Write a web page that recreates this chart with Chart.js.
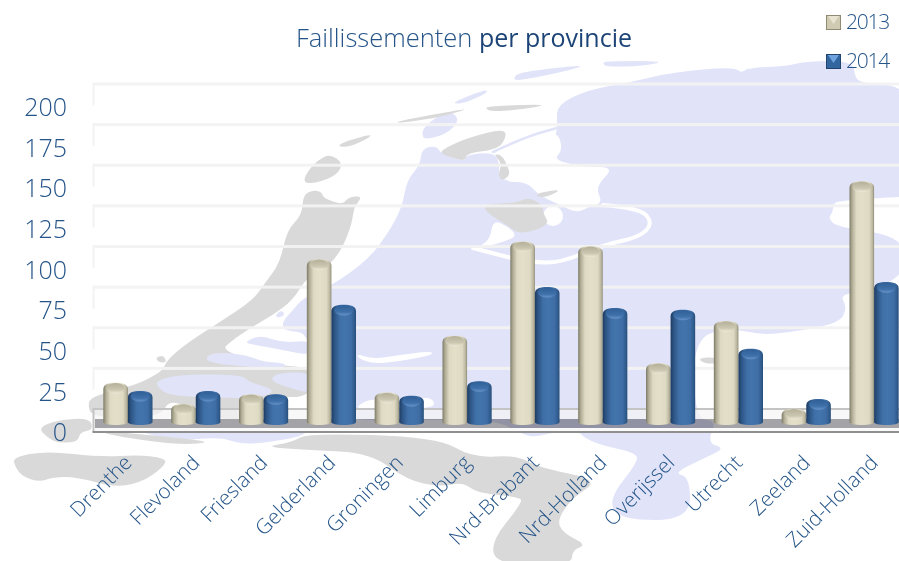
<!DOCTYPE html>
<html><head><meta charset="utf-8">
<style>html,body{margin:0;padding:0;background:#fff;overflow:hidden;width:899px;height:561px}canvas{display:block}</style>
<script src="https://cdn.jsdelivr.net/npm/chart.js@4/dist/chart.umd.min.js"></script>
</head><body><canvas id="c" width="908" height="561"></canvas>
<script>
const categories=["Drenthe","Flevoland","Friesland","Gelderland","Groningen","Limburg","Nrd-Brabant","Nrd-Holland","Overijssel","Utrecht","Zeeland","Zuid-Holland"];
const values2013=[26,13,19,102,20,55,113,110,38,64,10,150];
const values2014=[21,21,19,74,18,27,85,72,71,47,16,88];
const seriesNames=["2013","2014"];
const tickStep=25, axisMax=200;
const titleLight="Faillissementen", titleBold="per provincie";

const FONT='"Open Sans"';
const TXT='#245488', TXT2='#1c4477';
const BLUE='#e1e4f9', GREY='#d9d9d9';
const DEPTH=23, BAR_SHIFT=7, WALL_X=93;

function poly(ctx,pts,fill){ctx.beginPath();smooth(ctx,pts,true);ctx.fillStyle=fill;ctx.fill();}
function smooth(ctx,p,closed){
  const n=p.length;
  if(closed){
    let a=[(p[n-1][0]+p[0][0])/2,(p[n-1][1]+p[0][1])/2];ctx.moveTo(a[0],a[1]);
    for(let i=0;i<n;i++){const q=p[(i+1)%n];ctx.quadraticCurveTo(p[i][0],p[i][1],(p[i][0]+q[0])/2,(p[i][1]+q[1])/2);}
    ctx.closePath();
  }else{
    ctx.moveTo(p[0][0],p[0][1]);
    for(let i=1;i<n-1;i++)ctx.quadraticCurveTo(p[i][0],p[i][1],(p[i][0]+p[i+1][0])/2,(p[i][1]+p[i+1][1])/2);
    ctx.lineTo(p[n-1][0],p[n-1][1]);
  }
}
function line(ctx,pts,col,w){ctx.beginPath();smooth(ctx,pts,false);ctx.strokeStyle=col;ctx.lineWidth=w;ctx.lineCap='round';ctx.stroke();}

function drawMap(ctx){
  poly(ctx,[[303,195],[313,190],[322,192],[323,198],[343,205],[348,197],[363,196],[354,207],[352,223],[343,247],[330,265],[307,277],[293,300],[273,315],[250,328],[230,342],[222,350],[262,365],[300,366],[312,372],[310,398],[270,396],[252,414],[240,420],[205,417],[170,398],[160,418],[92,418],[87,402],[97,395],[135,385],[150,378],[163,370],[167,360],[187,343],[223,320],[253,300],[265,283],[280,263],[287,230],[302,215]],GREY);
  poly(ctx,[[422,148],[437,146],[440,153],[465,162],[465,155],[493,152],[500,163],[498,180],[527,182],[537,193],[557,133],[557,122],[557,105],[587,90],[632,82],[673,72],[733,67],[742,73],[747,68],[787,66],[807,61],[853,61],[855,78],[863,83],[893,85],[905,93],[905,197],[893,197],[837,201],[833,205],[833,212],[828,218],[837,227],[905,237],[905,277],[860,292],[840,295],[847,307],[840,323],[793,332],[760,335],[733,328],[693,337],[695,420],[717,420],[707,443],[725,448],[707,457],[673,473],[690,477],[690,520],[620,520],[608,500],[637,463],[637,453],[600,445],[583,437],[580,432],[553,432],[537,437],[523,435],[497,420],[432,420],[312,420],[312,333],[284,331],[282,322],[293,310],[303,298],[333,285],[370,258],[390,230],[402,207],[407,180],[420,165]],BLUE);
  poly(ctx,[[502,155],[530,142],[557,130],[563,150],[553,160],[585,167],[615,167],[595,187],[603,203],[588,207],[577,213],[560,205],[543,197],[537,193],[527,182],[505,182],[510,175],[508,167]],'#fff');
  line(ctx,[[603,205],[640,208],[653,223],[640,237],[603,245],[560,263],[530,262],[507,257],[473,248]],'#fff',4);
  poly(ctx,[[493,220],[507,226],[518,236],[500,243],[475,249],[490,240]],'#fff');
  ctx.beginPath();ctx.ellipse(553,216,10,10,0,0,7);ctx.fillStyle='#fff';ctx.fill();
  line(ctx,[[493,152],[525,137],[557,128]],BLUE,2.5);
  poly(ctx,[[357,354],[373,359],[400,355],[431,351],[433,355],[400,361],[373,364],[358,358]],'#fff');
  poly(ctx,[[358,405],[373,398],[400,403],[420,397],[434,399],[434,409],[358,409]],'#fff');
  poly(ctx,[[205,357],[217,352],[247,355],[263,362],[287,363],[283,369],[250,367],[210,363]],BLUE);
  poly(ctx,[[245,342],[260,335],[283,343],[312,340],[312,356],[283,350],[250,344]],BLUE);
  poly(ctx,[[157,380],[183,374],[243,375],[248,382],[277,390],[260,398],[233,398],[170,396],[157,387]],BLUE);
  poly(ctx,[[272,377],[280,373],[312,372],[312,394],[290,388],[273,382]],BLUE);
  poly(ctx,[[275,315],[282,310],[285,315],[278,318]],BLUE);
  poly(ctx,[[422,138],[423,127],[447,110],[460,118],[450,132],[430,139]],BLUE);
  poly(ctx,[[453,102],[487,89],[487,93],[467,102],[457,104]],BLUE);
  poly(ctx,[[513,78],[520,72],[590,64],[563,72],[517,81]],BLUE);
  poly(ctx,[[602,63],[608,61],[667,61],[643,66],[607,67]],BLUE);
  poly(ctx,[[143,433],[175,441],[220,437],[240,444],[265,443],[303,436],[307,430],[143,428]],BLUE);
  poly(ctx,[[330,154],[343,163],[337,175],[317,183],[303,183],[307,172],[318,160]],GREY);
  poly(ctx,[[335,145],[370,134],[371,137],[347,148]],GREY);
  poly(ctx,[[395,122],[430,115],[472,108],[450,114],[435,118],[400,123]],GREY);
  poly(ctx,[[484,108],[493,106],[547,104],[533,108],[493,112]],GREY);
  poly(ctx,[[439,153],[447,147],[470,137],[507,128],[504,143],[493,150],[467,153],[465,161],[453,158]],GREY);
  poly(ctx,[[493,154],[502,155],[508,167],[510,175],[502,181],[498,175],[502,163]],GREY);
  poly(ctx,[[537,193],[563,189],[547,197],[537,197]],GREY);
  poly(ctx,[[483,204],[517,203],[528,197],[543,205],[543,213],[550,225],[520,235],[507,225],[487,213]],GREY);
  poly(ctx,[[155,358],[163,355],[167,362],[160,363]],GREY);
  poly(ctx,[[38,428],[57,420],[90,418],[93,430],[80,432],[78,442],[57,443],[47,437]],GREY);
  poly(ctx,[[13,457],[47,451],[100,457],[140,455],[163,458],[167,463],[147,480],[117,488],[77,477],[53,477],[40,482],[23,477],[15,467]],GREY);
  poly(ctx,[[93,430],[160,436],[215,442],[180,445],[120,437]],GREY);
  poly(ctx,[[263,447],[293,442],[307,433],[437,437],[473,458],[517,455],[537,467],[600,480],[573,497],[557,520],[563,533],[587,545],[572,550],[572,565],[498,565],[490,543],[522,503],[520,497],[477,493],[463,482],[440,487],[407,480],[370,453],[310,450]],GREY);
  poly(ctx,[[697,358],[717,357],[722,363],[705,364]],GREY);
}

function cylinder(ctx,x,top,base,w,stops,capTop,capMid,rim){
  const l=x-w/2,r=x+w/2,h=base-top,ry=Math.min(6.5,h/2.4),rb=3;
  const g=ctx.createLinearGradient(l,0,r,0);stops.forEach(s=>g.addColorStop(s[0],s[1]));
  ctx.beginPath();
  ctx.moveTo(l,top+ry);
  ctx.bezierCurveTo(l,top+ry*.2,l+w*.22,top,x,top);
  ctx.bezierCurveTo(r-w*.22,top,r,top+ry*.2,r,top+ry);
  ctx.lineTo(r,base-rb);
  ctx.bezierCurveTo(r,base-rb*.3,r-w*.2,base,x,base);
  ctx.bezierCurveTo(l+w*.2,base,l,base-rb*.3,l,base-rb);
  ctx.closePath();ctx.fillStyle=g;ctx.fill();
  const cg=ctx.createLinearGradient(0,top,0,top+ry*1.7);
  cg.addColorStop(0,capTop);cg.addColorStop(.65,capMid);cg.addColorStop(1,rim);
  ctx.beginPath();ctx.ellipse(x,top+ry*.85,w*.38,ry*.8,0,0,7);ctx.fillStyle=cg;ctx.fill();
}

const mapPlugin={id:'mapBackdrop',beforeDraw(chart){
  const ctx=chart.ctx,y=chart.scales.y,W=chart.width,L=WALL_X;
  ctx.save();ctx.fillStyle='#fff';ctx.fillRect(0,0,W,561);
  drawMap(ctx);
  y.ticks.forEach(t=>{
    const py=y.getPixelForValue(t.value)-DEPTH;
    if(t.value===0)return;
    ctx.fillStyle='rgba(242,242,242,.95)';
    ctx.fillRect(L,py-1.5,W-L,3);
    ctx.fillRect(L-.5,py-1.5,2,DEPTH);
  });
  const f=y.getPixelForValue(0);
  ctx.fillStyle='rgba(245,245,245,.7)';ctx.fillRect(L,f-DEPTH,W-L,10);
  ctx.globalCompositeOperation='multiply';
  ctx.fillStyle='#a4a4a8';ctx.fillRect(L+2,f-13,W-L,9);
  ctx.globalCompositeOperation='source-over';
  ctx.fillStyle='#fafafa';ctx.fillRect(L+2,f-4,W-L,3);
  ctx.fillStyle='#c4c4c4';
  ctx.fillRect(L,f-DEPTH-1,W-L,2);
  ctx.fillRect(L-.5,f-DEPTH-1,2,DEPTH+1);
  ctx.fillStyle='#8f8f8f';ctx.fillRect(L-.5,f-1,W-L,2);
  ctx.restore();
},
beforeDatasetsDraw(chart){
  const ctx=chart.ctx;ctx.save();
  const styles=[
    {stops:[[0,'#7c7a66'],[.1,'#aeaa94'],[.28,'#dfdac3'],[.5,'#e4dfc9'],[.8,'#dfdac3'],[.94,'#b8b49e'],[1,'#8e8b76']],cap:['#b2ae97','#cbc7b0','#f0ecdb']},
    {stops:[[0,'#1e3b60'],[.12,'#2c5484'],[.35,'#4070a8'],[.55,'#4474ac'],[.8,'#3f6ea6'],[.95,'#2e598a'],[1,'#264c76']],cap:['#2f5e95','#3f70a9','#6a97cc']}
  ];
  chart.data.datasets.forEach((d,i)=>{
    const s=styles[i];
    chart.getDatasetMeta(i).data.forEach(el=>{
      cylinder(ctx,el.x,el.y-BAR_SHIFT,el.base-BAR_SHIFT,el.width,s.stops,s.cap[0],s.cap[1],s.cap[2]);
    });
  });
  ctx.restore();
  return false;
},
afterDraw(chart){
  const ctx=chart.ctx;ctx.save();
  ctx.textBaseline='alphabetic';ctx.textAlign='left';
  ctx.font='300 25.5px '+FONT;ctx.fillStyle=TXT;
  ctx.fillText(titleLight,296,47);
  const w=ctx.measureText(titleLight+' ').width;
  ctx.font='500 25px '+FONT;ctx.fillStyle=TXT2;
  ctx.fillText(titleBold,296+w,47);
  const rows=[{y:15,c:['#e8e4d2','#cfcab2','#8e8a74']},{y:54,c:['#6fa3e0','#33659e','#21436e']}];
  chart.data.datasets.forEach((d,i)=>{
    const r=rows[i],x=826,y0=r.y,s=15;
    ctx.fillStyle=r.c[2];ctx.fillRect(x,y0,s,s);
    ctx.fillStyle=r.c[1];ctx.fillRect(x+1,y0+1,s-2,s-2);
    ctx.fillStyle=r.c[0];ctx.beginPath();ctx.moveTo(x+2,y0+1);ctx.lineTo(x+s-2,y0+1);ctx.lineTo(x+s/2,y0+s*.6);ctx.closePath();ctx.fill();
    ctx.font='300 21px '+FONT;ctx.fillStyle=TXT;ctx.letterSpacing='-1.2px';
    ctx.fillText(d.label,846,y0+14);
    ctx.letterSpacing='0px';
  });
  ctx.restore();
}};

new Chart(document.getElementById('c'),{
  type:'bar',
  data:{labels:categories,datasets:[
    {label:seriesNames[0],data:values2013,backgroundColor:'#dfdac3',barPercentage:1,categoryPercentage:.725},
    {label:seriesNames[1],data:values2014,backgroundColor:'#3f6fa7',barPercentage:1,categoryPercentage:.725}
  ]},
  options:{
    responsive:false,animation:false,
    layout:{padding:{top:107,left:0,right:0,bottom:0}},
    plugins:{legend:{display:false},title:{display:false},tooltip:{enabled:false}},
    scales:{
      x:{grid:{display:false},border:{display:false},
        afterFit(s){s.height=129;},
        ticks:{autoSkip:false,minRotation:45,maxRotation:45,padding:11,labelOffset:1,color:TXT,font:{family:FONT,size:20.7,weight:'300'}}},
      y:{min:0,max:axisMax,grid:{display:false},border:{display:false},
        afterFit(s){s.width=94;},
        ticks:{stepSize:tickStep,padding:19,labelOffset:2,color:TXT,font:{family:FONT,size:25,weight:'300'}}}
    }
  },
  plugins:[mapPlugin]
});
</script></body></html>
